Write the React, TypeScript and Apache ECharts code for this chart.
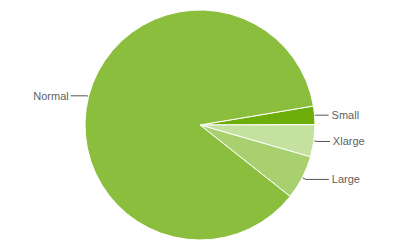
import React, { useEffect, useRef } from "react";
import * as echarts from "echarts";

const categories = ["Small", "Xlarge", "Large", "Normal"];
const values = [2.6, 4.5, 6.2, 86.7];
const colors = ["#6eae0b", "#c5e19f", "#a9d06f", "#8bbe3d"];
const lineLen = [2, 4, 4, 2];
const lineLen2 = [12, 12, 23, 16];
const labelGap = [3, 3, 3, 2];

export default function App() {
  const ref = useRef<HTMLDivElement>(null);
  useEffect(() => {
    if (!ref.current) return;
    const chart = echarts.init(ref.current, undefined, { renderer: "svg" });
    chart.setOption({
      animation: false,
      backgroundColor: "#ffffff",
      series: [
        {
          type: "pie",
          center: [200, 125],
          radius: 115,
          startAngle: 9.5,
          clockwise: true,
          avoidLabelOverlap: false,
          data: categories.map((c, i) => ({
            name: c,
            value: values[i],
            itemStyle: { color: colors[i] },
            label: { distanceToLabelLine: labelGap[i] },
            labelLine: { length: lineLen[i], length2: lineLen2[i] },
          })),
          itemStyle: { borderColor: "#ffffff", borderWidth: 1 },
          label: {
            show: true,
            position: "outside",
            color: "#5f5f5f",
            fontSize: 11,
            fontFamily: "Liberation Sans, Arial, sans-serif",
            formatter: "{b}",
          },
          labelLine: {
            show: true,
            smooth: false,
            lineStyle: { color: "#555555", width: 1 },
          },
          emphasis: { disabled: true },
        },
      ],
    });
    return () => chart.dispose();
  }, []);
  return <div ref={ref} style={{ width: 400, height: 250, position: "absolute", left: 0, top: 0 }} />;
}
